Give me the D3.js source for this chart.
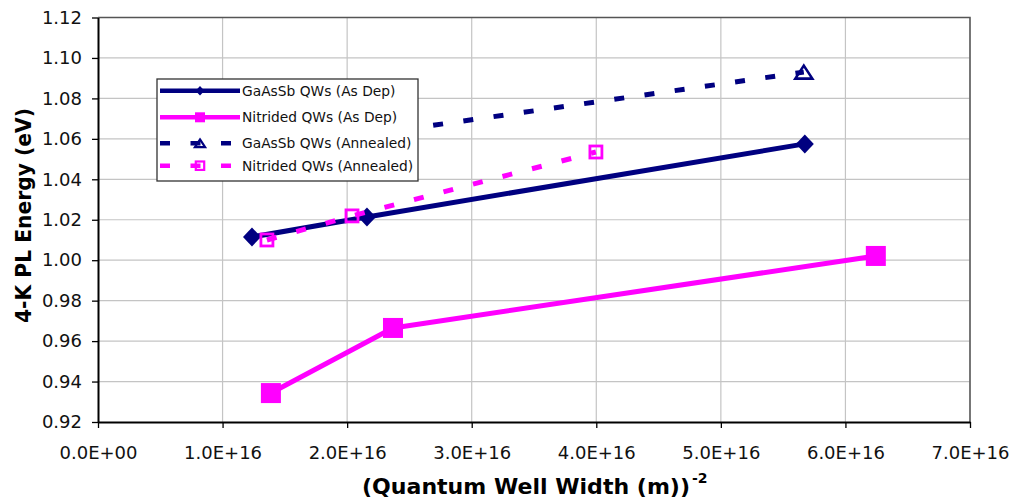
<!DOCTYPE html>
<html>
<head>
<meta charset="utf-8">
<script src="https://cdn.jsdelivr.net/npm/d3@7"></script>
<style>
  html, body { margin: 0; padding: 0; background: #fff; }
  svg { display: block; font-family: "DejaVu Sans", Verdana, sans-serif; }
</style>
</head>
<body>
<svg id="chart" width="1013" height="502"></svg>
<script>
// Inverse-square quantum well width (m^-2) vs. 4-K photoluminescence peak energy (eV)
const gaasbAsDepX = [1.236e16, 2.159e16, 5.674e16];
const gaasbAsDepY = [1.0115, 1.0214, 1.0575];

const nitridedAsDepX = [1.388e16, 2.368e16, 6.244e16];
const nitridedAsDepY = [0.9343, 0.9665, 1.0021];

const gaasbAnnealedX = [1.236e16, 2.159e16, 5.666e16];
const gaasbAnnealedY = [1.054, 1.062, 1.093];

const nitridedAnnealedX = [1.356e16, 2.039e16, 3.997e16];
const nitridedAnnealedY = [1.0100, 1.0219, 1.0535];

const seriesNames = [
  "GaAsSb QWs (As Dep)",
  "Nitrided QWs (As Dep)",
  "GaAsSb QWs (Annealed)",
  "Nitrided QWs (Annealed)"
];

const xTickValues = [0, 1e16, 2e16, 3e16, 4e16, 5e16, 6e16, 7e16];
const yTickValues = [0.92, 0.94, 0.96, 0.98, 1.00, 1.02, 1.04, 1.06, 1.08, 1.10, 1.12];

const xTitle = "(Quantum Well Width (m))";
const xTitleExp = "-2";
const yTitle = "4-K PL Energy (eV)";

// ---- layout ----
const plot = { left: 98, right: 970, top: 17.5, bottom: 422 };
const NAVY = "#000080", MAGENTA = "#ff00ff", GRID = "#c4c4c4";

const svg = d3.select("#chart");
const x = d3.scaleLinear().domain([0, 7e16]).range([plot.left, plot.right]);
const y = d3.scaleLinear().domain([0.92, 1.12]).range([plot.bottom, plot.top]);

// gridlines
const grid = svg.append("g").attr("class", "grid");
grid.selectAll("line.v").data(xTickValues.slice(1)).join("line")
  .attr("x1", d => x(d)).attr("x2", d => x(d))
  .attr("y1", plot.top).attr("y2", plot.bottom)
  .attr("stroke", GRID).attr("stroke-width", 1.2);
grid.selectAll("line.h").data(yTickValues.slice(1)).join("line")
  .attr("x1", plot.left).attr("x2", plot.right)
  .attr("y1", d => y(d)).attr("y2", d => y(d))
  .attr("stroke", GRID).attr("stroke-width", 1.2);

// top and right frame
svg.append("path")
  .attr("d", `M${plot.left},${plot.top}H${plot.right}V${plot.bottom}`)
  .attr("fill", "none").attr("stroke", "#555").attr("stroke-width", 1.5);

// axes
function sciFormat(d) {
  const [m, e] = d.toExponential(1).split("e");
  const sign = e[0] === "-" ? "-" : "+";
  const digits = e.replace(/[+-]/, "").padStart(2, "0");
  return `${m}E${sign}${digits}`;
}

const xAxis = svg.append("g")
  .attr("transform", `translate(0,${plot.bottom})`)
  .call(d3.axisBottom(x).tickValues(xTickValues).tickFormat(sciFormat)
    .tickSizeInner(6).tickSizeOuter(0).tickPadding(18));
const yAxis = svg.append("g")
  .attr("transform", `translate(${plot.left},0)`)
  .call(d3.axisLeft(y).tickValues(yTickValues).tickFormat(d => d.toFixed(2))
    .tickSizeInner(6).tickSizeOuter(0).tickPadding(10));

[xAxis, yAxis].forEach(g => {
  g.select(".domain").attr("stroke", "#000").attr("stroke-width", 2);
  g.selectAll(".tick line").attr("stroke", "#000").attr("stroke-width", 1.3);
  g.selectAll(".tick text").attr("fill", "#111")
    .style("font-family", "'DejaVu Sans', Verdana, sans-serif")
    .style("font-size", "18px");
});
xAxis.selectAll(".tick text").attr("dy", null).attr("y", 459 - plot.bottom);

// axis titles
svg.append("text")
  .attr("transform", `translate(31,215.5) rotate(-90)`)
  .attr("text-anchor", "middle")
  .attr("font-weight", "bold").attr("font-size", 21)
  .attr("textLength", 215).attr("lengthAdjust", "spacingAndGlyphs")
  .attr("fill", "#000")
  .text(yTitle);

svg.append("text")
  .attr("x", 362).attr("y", 494)
  .attr("font-weight", "bold").attr("font-size", 21)
  .attr("textLength", 328).attr("lengthAdjust", "spacingAndGlyphs")
  .attr("fill", "#000")
  .text(xTitle);
svg.append("text")
  .attr("x", 362 + 328 + 2).attr("y", 483)
  .attr("font-weight", "bold").attr("font-size", 14)
  .attr("fill", "#000")
  .text(xTitleExp);

// ---- markers ----
const markers = {
  diamond: (g, s) => g.append("path")
    .attr("d", `M0,${-9.5 * s}L${9 * s},0L0,${9.5 * s}L${-9 * s},0Z`)
    .attr("fill", NAVY),
  square: (g, s) => g.append("rect")
    .attr("x", -10 * s).attr("y", -10 * s).attr("width", 20 * s).attr("height", 20 * s)
    .attr("fill", MAGENTA),
  triangle: (g, s) => g.append("path")
    .attr("d", `M0,${-6.5 * s}L${8.5 * s},${6.5 * s}L${-8.5 * s},${6.5 * s}Z`)
    .attr("fill", "none").attr("stroke", NAVY).attr("stroke-width", 2.6)
    .attr("stroke-linejoin", "miter"),
  openSquare: (g, s) => g.append("rect")
    .attr("x", -6 * s).attr("y", -6 * s).attr("width", 12 * s).attr("height", 12 * s)
    .attr("fill", "none").attr("stroke", MAGENTA).attr("stroke-width", 2.8)
};

const series = [
  { xs: gaasbAsDepX, ys: gaasbAsDepY, color: NAVY, dash: null, marker: "diamond", legendScale: 0.5 },
  { xs: nitridedAsDepX, ys: nitridedAsDepY, color: MAGENTA, dash: null, marker: "square", legendScale: 0.5 },
  { xs: gaasbAnnealedX, ys: gaasbAnnealedY, color: NAVY, dash: "10,20.5", marker: "triangle", legendScale: 0.6 },
  { xs: nitridedAnnealedX, ys: nitridedAnnealedY, color: MAGENTA, dash: "10,20.5", marker: "openSquare", legendScale: 0.7 }
];

const line = d3.line().x(d => x(d[0])).y(d => y(d[1]));

series.forEach((s, i) => {
  const pts = s.xs.map((v, k) => [v, s.ys[k]]);
  const g = svg.append("g").attr("class", "series-" + i);
  g.append("path")
    .datum(pts)
    .attr("d", line)
    .attr("fill", "none")
    .attr("stroke", s.color)
    .attr("stroke-width", 5)
    .attr("stroke-linejoin", "round")
    .attr("stroke-dasharray", s.dash);
  pts.forEach(p => {
    const mg = g.append("g").attr("transform", `translate(${x(p[0])},${y(p[1])})`);
    markers[s.marker](mg, 1);
  });
});

// ---- legend ----
const legend = svg.append("g").attr("class", "legend");
legend.append("rect")
  .attr("x", 157).attr("y", 79).attr("width", 261).attr("height", 102)
  .attr("fill", "#fff").attr("stroke", "#333").attr("stroke-width", 1.3);

const legendRows = [90.7, 117.3, 143.3, 165.7];
series.forEach((s, i) => {
  const ry = legendRows[i];
  legend.append("line")
    .attr("x1", 160).attr("x2", 240).attr("y1", ry).attr("y2", ry)
    .attr("stroke", s.color).attr("stroke-width", 4.5)
    .attr("stroke-dasharray", s.dash);
  const mg = legend.append("g").attr("transform", `translate(200,${ry})`);
  markers[s.marker](mg, s.legendScale);
  if (s.marker === "triangle" || s.marker === "openSquare") {
    mg.select("*").attr("stroke-width", 2.2);
  }
  legend.append("text")
    .attr("x", 242).attr("y", ry)
    .attr("dy", "0.35em")
    .attr("font-size", 13.8)
    .attr("fill", "#111")
    .text(seriesNames[i]);
});
</script>
</body>
</html>
